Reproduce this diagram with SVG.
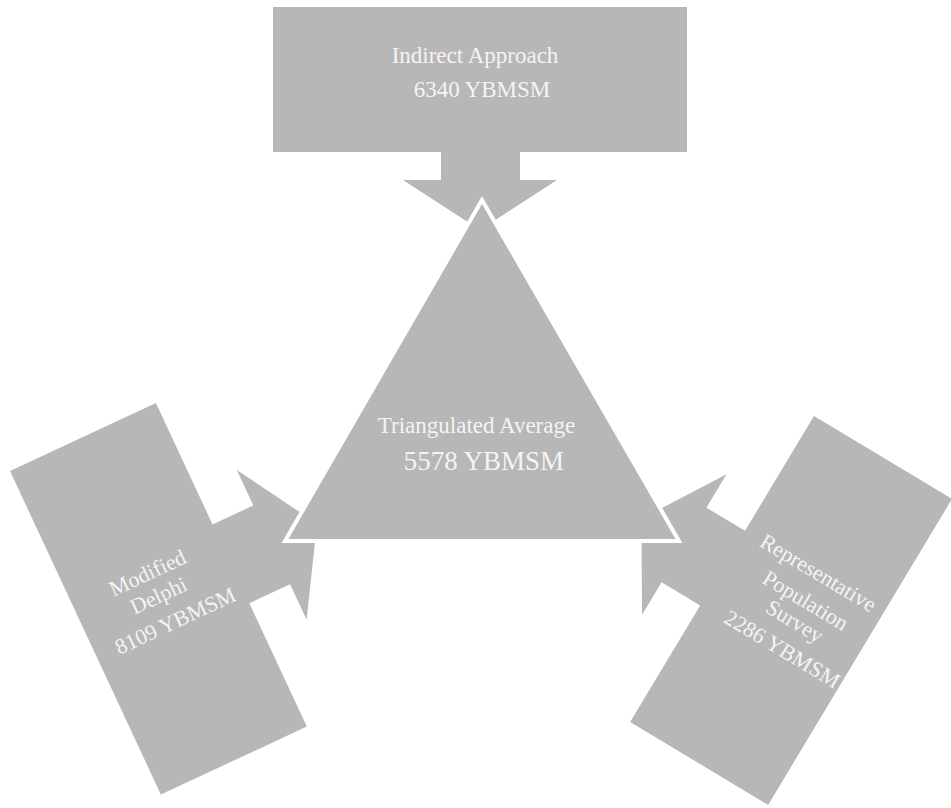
<svg xmlns="http://www.w3.org/2000/svg" width="951" height="808" viewBox="0 0 951 808">
<style>
.shape{fill:#b7b7b7;stroke:none}
.tri{fill:#b7b7b7;stroke:#ffffff;stroke-width:4;stroke-linejoin:miter}
.t{font-family:"Liberation Serif","Times New Roman",serif;fill:#f4f4f4;text-anchor:middle}
</style>
<rect width="951" height="808" fill="#ffffff"/>
<g id="connectors">
<g id="node-indirect">
<path class="shape" d="M273,7 H687 V152 H520 V180 H557 L480,230 L403,180 H441 V152 H273 Z"/>
<text class="t" x="475" y="63" font-size="23">Indirect Approach</text>
<text class="t" x="482" y="97" font-size="23">6340 YBMSM</text>
</g>
<g id="node-delphi" transform="translate(10,471) rotate(-25)">
<path class="shape" d="M0,0 H161 V134 H206 V95 L256,177.5 L206,260 V221 H161 V357 H0 Z"/>
<text class="t" x="81.6" y="158" font-size="22">Modified</text>
<text class="t" x="82" y="183" font-size="22">Delphi</text>
<text class="t" x="86.5" y="213" font-size="22">8109 YBMSM</text>
</g>
<g id="node-survey" transform="translate(814,416) rotate(31)">
<path class="shape" d="M0,0 H161 V357 H0 V221 H-45 V259 L-95,177 L-45,95 V134 H0 Z"/>
<text class="t" x="84.4" y="139.5" font-size="22">Representative</text>
<text class="t" x="87.9" y="169.8" font-size="22">Population</text>
<text class="t" x="89.3" y="193.2" font-size="22">Survey</text>
<text class="t" x="92.8" y="223.5" font-size="22">2286 YBMSM</text>
</g>
</g>
<g id="node-triangle">
<path class="tri" d="M482,200 L679,541 L285,541 Z"/>
<text class="t" x="476.5" y="433" font-size="23">Triangulated Average</text>
<text class="t" x="484" y="470" font-size="27">5578 YBMSM</text>
</g>
</svg>
